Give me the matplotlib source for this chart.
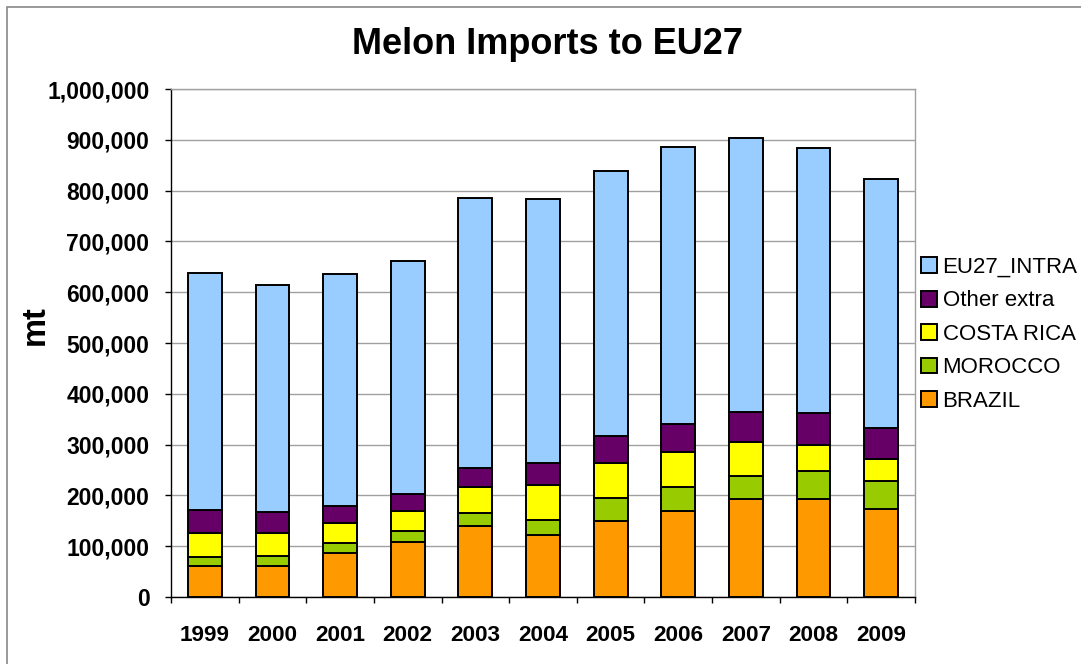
import numpy as np
import matplotlib
matplotlib.use("Agg")
import matplotlib.pyplot as plt
from matplotlib.patches import Rectangle
from matplotlib.ticker import FuncFormatter, FixedLocator

plt.rcParams["font.family"] = ["Liberation Sans", "DejaVu Sans"]

# ---------------------------------------------------------------------------
# Data (mt)
# ---------------------------------------------------------------------------
years = ["1999", "2000", "2001", "2002", "2003", "2004",
         "2005", "2006", "2007", "2008", "2009"]
brazil = [62000, 62000, 87000, 108000, 140000, 122000,
          150000, 170000, 192000, 192000, 173000]
morocco = [17500, 19500, 20000, 22000, 26000, 29000,
           44000, 47000, 46000, 57000, 56000]
costa_rica = [46500, 44500, 38000, 39000, 51000, 69000,
              70000, 69000, 68000, 51000, 42000]
other_extra = [46000, 42000, 34000, 33000, 37000, 43000,
               53000, 55000, 59000, 62000, 61000]
eu27_intra = [465000, 446000, 456000, 460000, 532000, 521000,
              521000, 545000, 538000, 521000, 490000]

series = [
    ("BRAZIL", brazil, "#FF9900"),
    ("MOROCCO", morocco, "#99CC00"),
    ("COSTA RICA", costa_rica, "#FFFF00"),
    ("Other extra", other_extra, "#660066"),
    ("EU27_INTRA", eu27_intra, "#99CCFF"),
]

W, H = 1081, 664
fig = plt.figure(figsize=(W / 100, H / 100), dpi=100)
ax = fig.add_axes([171 / W, 1 - 597 / H, (915 - 171) / W, (597 - 89) / H])

x = np.arange(len(years))
bottom = np.zeros(len(years))
handles = []
for name, vals, color in series:
    vals = np.array(vals, dtype=float)
    b = ax.bar(x, vals, width=0.5, bottom=bottom, color=color,
               edgecolor="black", linewidth=1.4, label=name, zorder=3)
    handles.append(b)
    bottom += vals

# --- axes styling ---
ax.set_ylim(0, 1_000_000)
ax.set_xlim(-0.5, len(years) - 0.5)
ax.yaxis.set_major_locator(FixedLocator(np.arange(0, 1_000_001, 100_000)))
ax.yaxis.set_major_formatter(FuncFormatter(lambda v, p: f"{int(v):,}"))
ax.grid(axis="y", color="#A0A0A0", linewidth=1.0, zorder=0)

ax.xaxis.set_major_locator(FixedLocator(np.arange(-0.5, len(years), 1.0)))
ax.xaxis.set_major_formatter(FuncFormatter(lambda v, p: ""))
ax.xaxis.set_minor_locator(FixedLocator(x))
ax.set_xticklabels(years, minor=True)
ax.tick_params(axis="x", which="minor", length=0, pad=20,
               labelsize=16.2)
ax.tick_params(axis="x", which="major", length=4.5, width=1, color="black")
ax.tick_params(axis="y", length=4.5, width=1, pad=11, labelsize=16.5)
for lbl in ax.get_xticklabels(minor=True) + ax.get_yticklabels():
    lbl.set_fontweight("bold")

for side in ["top", "right"]:
    ax.spines[side].set_color("#A0A0A0")
    ax.spines[side].set_linewidth(1.0)
for side in ["left", "bottom"]:
    ax.spines[side].set_color("black")
    ax.spines[side].set_linewidth(1.0)

# --- titles ---
fig.text(548 / W, 1 - 44 / H, "Melon Imports to EU27", ha="center",
         va="center", fontsize=26, fontweight="bold")
fig.text(35 / W, 1 - 325 / H, "mt", ha="center", va="center",
         rotation=90, fontsize=23.5, fontweight="bold")

# --- legend (reversed so EU27_INTRA on top) ---
leg = fig.legend(handles[::-1], [s[0] for s in series][::-1],
                 loc="upper left", bbox_to_anchor=(921 / W, 1 - 257 / H),
                 frameon=False, fontsize=16, handlelength=0.72,
                 handleheight=0.72, handletextpad=0.25, labelspacing=0.56,
                 borderpad=0, borderaxespad=0)

# outer chart border (only top/left visible in the reference crop)
fig.patches.append(Rectangle((7 / W, -0.1), 1.2, 1 - 7 / H + 0.1,
                             transform=fig.transFigure, fill=False,
                             edgecolor="#888888", linewidth=1.2))

fig.savefig("out.png", dpi=100)
